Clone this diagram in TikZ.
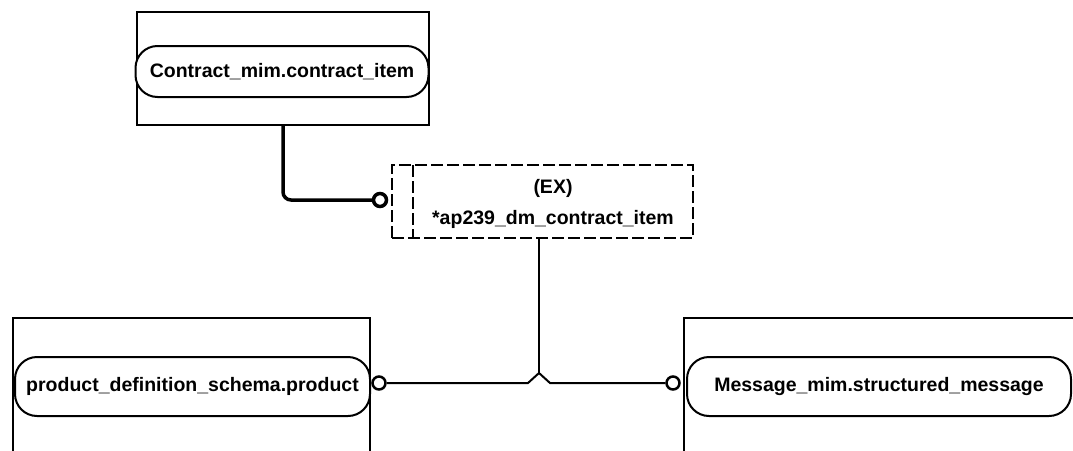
\documentclass[tikz,border=0pt]{standalone}
\usepackage{fontspec}
\setmainfont{Liberation Sans}
\usetikzlibrary{positioning}

\begin{document}
\begin{tikzpicture}[
            x=1pt, y=-1pt,
            font=\fontsize{19.5}{22}\selectfont\bfseries,
            schemabox/.style={rectangle, draw=black, line width=2pt, inner sep=0pt},
            entity/.style={rectangle, draw=black, line width=2pt, rounded corners=22pt, inner sep=0pt, fill=white},
            exbox/.style={rectangle, draw=black, line width=2pt, dash pattern=on 12pt off 4pt, inner sep=0pt},
            ring/.style={circle, draw=black, line width=2.5pt, fill=white, minimum size=13pt, inner sep=0pt},
            link/.style={line width=2pt},
            thicklink/.style={line width=3.5pt, rounded corners=8pt}
            ]
            \useasboundingbox (0,0) rectangle (1073,450);

            % top schema
            \node (contractbox) [schemabox, minimum width=292pt, minimum height=113pt] at (283,68.5) {};
            \node (contract) [entity, minimum width=293pt, minimum height=51pt] at (282,71.5) {Contract\_mim.contract\_item};

            % extended entity
            \node (exbox) [exbox, minimum width=301pt, minimum height=73pt] at (542.5,201.5) {};
            \draw [exbox] (413,165) -- (413,238);
            \node (exlabel) [align=center] at (553,204) {(EX)\\[9pt]*ap239\_dm\_contract\_item};
            \node (excirc) [ring, line width=3.5pt] at (380,200) {};

            % bottom schemas
            \draw [line width=2pt] (13,452) |- (370,318) -- (370,452);
            \draw [line width=2pt] (684,452) |- (1076,318);
            \node (product) [entity, minimum width=355pt, minimum height=59pt] at (192.5,386.5) {product\_definition\_schema.product};
            \node (message) [entity, minimum width=384pt, minimum height=59pt] at (879,386.5) {Message\_mim.structured\_message};
            \node (pcirc) [ring] at (379,383) {};
            \node (mcirc) [ring] at (673,383) {};

            \coordinate (apex) at (539,373);
            \coordinate (jl) at (528,383);
            \coordinate (jr) at (550,383);

            \draw [thicklink] (contractbox.south) |- (excirc.west);
            \draw [link] (apex |- exbox.south) -- (apex);
            \draw [link] (pcirc.east) -- (jl) -- (apex) -- (jr) -- (mcirc.west);
        \end{tikzpicture}
\end{document}
